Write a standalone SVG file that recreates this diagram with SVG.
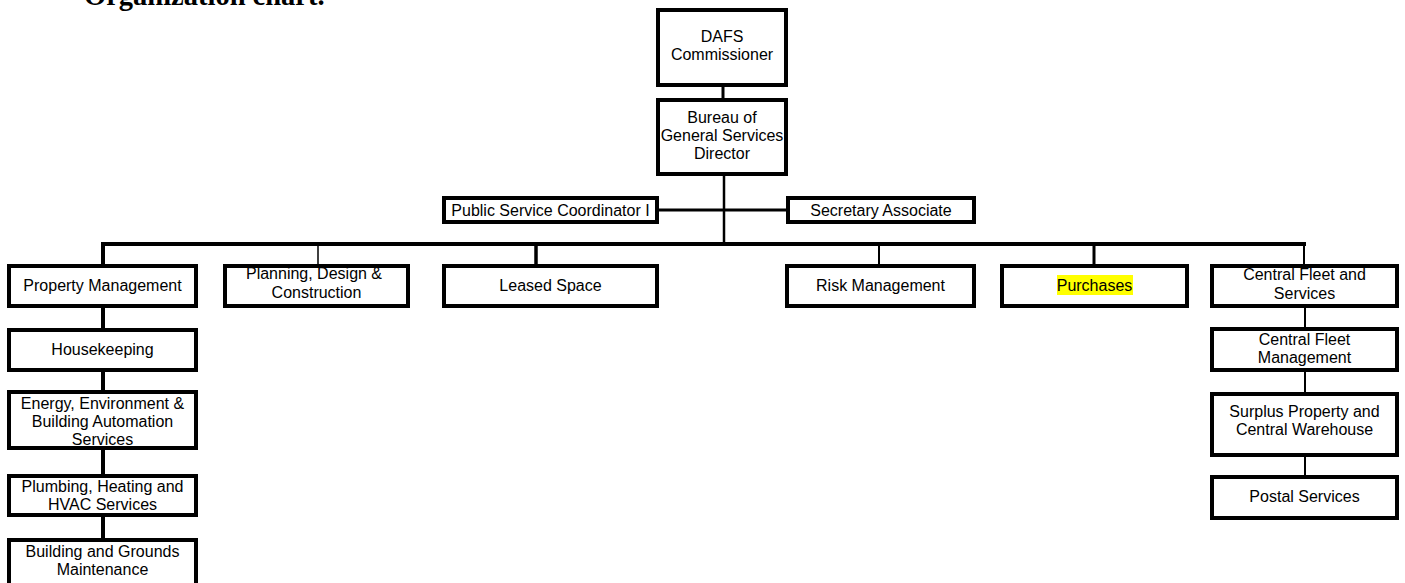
<svg xmlns="http://www.w3.org/2000/svg" width="1405" height="583" viewBox="0 0 1405 583">
<style>
.box{fill:#fff;stroke:#000;stroke-width:4}
.t{font-family:"Liberation Sans",Arial,sans-serif;font-size:16px;text-anchor:middle;fill:#000}
.title{font-family:"Liberation Serif","Times New Roman",serif;font-size:28.5px;font-weight:bold;fill:#000}
.c{stroke:#000;fill:none}
</style>
<rect width="1405" height="583" fill="#fff"/>
<text class="title" x="84" y="5">Organization chart.</text>
<g id="connectors">
<line class="c" x1="723" y1="86" x2="723" y2="99" stroke-width="3"/>
<line class="c" x1="724" y1="175" x2="724" y2="244" stroke-width="2.5"/>
<line class="c" x1="658" y1="210" x2="787" y2="210" stroke-width="3"/>
<line class="c" x1="101" y1="244" x2="1306" y2="244" stroke-width="4"/>
<line class="c" x1="103" y1="244" x2="103" y2="265" stroke-width="4"/>
<line class="c" x1="318" y1="244" x2="318" y2="265" stroke-width="1.5"/>
<line class="c" x1="536" y1="244" x2="536" y2="265" stroke-width="3.5"/>
<line class="c" x1="879" y1="244" x2="879" y2="265" stroke-width="2"/>
<line class="c" x1="1094" y1="244" x2="1094" y2="265" stroke-width="3"/>
<line class="c" x1="1304" y1="244" x2="1304" y2="265" stroke-width="2"/>
<line class="c" x1="103" y1="307" x2="103" y2="329" stroke-width="4"/>
<line class="c" x1="103" y1="371" x2="103" y2="391" stroke-width="4"/>
<line class="c" x1="103" y1="449" x2="103" y2="475" stroke-width="4"/>
<line class="c" x1="103" y1="516" x2="103" y2="539" stroke-width="4"/>
<line class="c" x1="1305" y1="307" x2="1305" y2="328" stroke-width="2"/>
<line class="c" x1="1305" y1="371" x2="1305" y2="393" stroke-width="2"/>
<line class="c" x1="1305" y1="456" x2="1305" y2="476" stroke-width="2"/>
</g>
<g id="dafs"><rect class="box" x="658" y="10" width="128" height="75"/><text class="t" x="722" y="42">DAFS</text><text class="t" x="722" y="60">Commissioner</text></g>
<g id="bureau"><rect class="box" x="658" y="100" width="128" height="74"/><text class="t" x="722" y="123">Bureau of</text><text class="t" x="722" y="141">General Services</text><text class="t" x="722" y="159">Director</text></g>
<g id="psc"><rect class="box" x="444" y="198" width="213" height="24"/><text class="t" x="550.5" y="216">Public Service Coordinator I</text></g>
<g id="secretary"><rect class="box" x="788" y="198" width="186" height="24"/><text class="t" x="881" y="216">Secretary Associate</text></g>
<g id="property"><rect class="box" x="9" y="266" width="187" height="40"/><text class="t" x="102.5" y="291">Property Management</text></g>
<g id="planning"><rect class="box" x="225" y="266" width="183" height="40"/><text class="t" x="314" y="279">Planning, Design &amp;</text><text class="t" x="316.5" y="298">Construction</text></g>
<g id="leased"><rect class="box" x="444" y="266" width="213" height="40"/><text class="t" x="550.5" y="291">Leased Space</text></g>
<g id="risk"><rect class="box" x="787" y="266" width="187" height="40"/><text class="t" x="880.5" y="291">Risk Management</text></g>
<g id="purchases"><rect class="box" x="1002" y="266" width="185" height="40"/><rect x="1057" y="275" width="76" height="20" fill="#ffff00"/><text class="t" x="1094.5" y="291">Purchases</text></g>
<g id="cfs"><rect class="box" x="1212" y="266" width="185" height="40"/><text class="t" x="1304.5" y="280">Central Fleet and</text><text class="t" x="1304.5" y="299">Services</text></g>
<g id="housekeeping"><rect class="box" x="9" y="330" width="187" height="40"/><text class="t" x="102.5" y="355">Housekeeping</text></g>
<g id="energy"><rect class="box" x="9" y="392" width="187" height="56"/><text class="t" x="102.5" y="409">Energy, Environment &amp;</text><text class="t" x="102.5" y="427">Building Automation</text><text class="t" x="102.5" y="445">Services</text></g>
<g id="plumbing"><rect class="box" x="9" y="476" width="187" height="39"/><text class="t" x="102.5" y="492">Plumbing, Heating and</text><text class="t" x="102.5" y="510">HVAC Services</text></g>
<g id="building"><rect class="box" x="9" y="540" width="187" height="58"/><text class="t" x="102.5" y="557">Building and Grounds</text><text class="t" x="102.5" y="575">Maintenance</text></g>
<g id="cfm"><rect class="box" x="1212" y="329" width="185" height="41"/><text class="t" x="1304.5" y="345">Central Fleet</text><text class="t" x="1304.5" y="363">Management</text></g>
<g id="surplus"><rect class="box" x="1212" y="394" width="185" height="61"/><text class="t" x="1304.5" y="417">Surplus Property and</text><text class="t" x="1304.5" y="435">Central Warehouse</text></g>
<g id="postal"><rect class="box" x="1212" y="477" width="185" height="41"/><text class="t" x="1304.5" y="502">Postal Services</text></g>
</svg>
